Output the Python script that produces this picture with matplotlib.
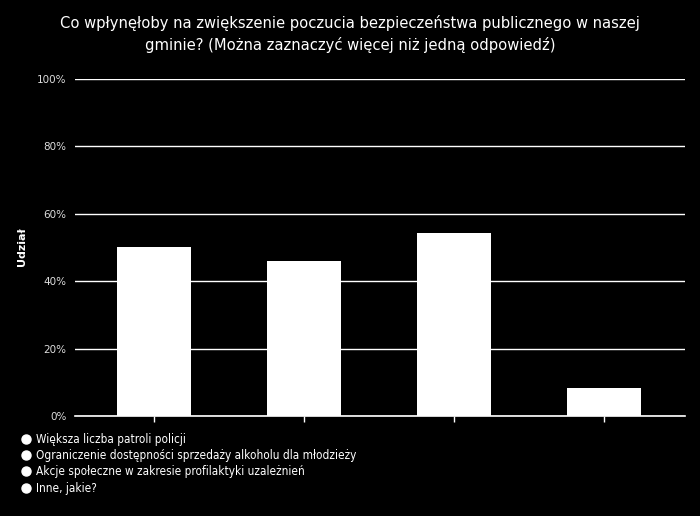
import matplotlib
matplotlib.use("Agg")
import matplotlib.pyplot as plt
from matplotlib.lines import Line2D

title = "Co wpłynęłoby na zwiększenie poczucia bezpieczeństwa publicznego w naszej\ngminie? (Można zaznaczyć więcej niż jedną odpowiedź)"
categories = [
    "Większa liczba patroli policji",
    "Ograniczenie dostępności sprzedaży alkoholu dla młodzieży",
    "Akcje społeczne w zakresie profilaktyki uzależnień",
    "Inne, jakie?",
]
shares = [50.0, 46.0, 54.2, 8.4]
y_ticks = [0, 20, 40, 60, 80, 100]
y_label = "Udział"

plt.rcParams["font.family"] = ["DejaVu Sans"]

fig = plt.figure(figsize=(7.0, 5.16), dpi=100, facecolor="black")
ax = fig.add_axes([75 / 700, 1 - 416 / 516, 610 / 700, 337 / 516])
ax.set_facecolor("black")

x = list(range(len(categories)))
ax.bar(x, shares, width=0.49, color="white", zorder=3)

ax.set_xlim(-0.527, 3.54)
ax.set_ylim(0, 100)
ax.set_yticks(y_ticks)
ax.set_yticklabels([f"{v}%" for v in y_ticks], color="#dddddd", fontsize=7.5)
ax.tick_params(axis="y", length=0, pad=6)
ax.set_xticks(x)
ax.set_xticklabels([""] * len(x))
ax.tick_params(axis="x", colors="white", length=4, width=1, direction="out")
ax.grid(axis="y", color="white", linewidth=1, zorder=1)
for s in ax.spines.values():
    s.set_visible(False)
ax.axhline(0, color="white", linewidth=1.2, zorder=4, clip_on=False)

fig.text(22 / 700, 1 - 247 / 516, y_label, rotation=90, color="white",
         fontsize=8, fontweight="bold", ha="center", va="center")

fig.text(350 / 700, 1 - 34 / 516, title, color="white", fontsize=11.8,
         ha="center", va="center", linespacing=1.45, fontstretch="condensed")

handles = [Line2D([], [], marker="o", linestyle="", markersize=6.5,
                  markerfacecolor="white", markeredgecolor="white") for _ in categories]
leg = fig.legend(handles, categories, loc="upper left",
                 bbox_to_anchor=(17 / 700, 1 - 428 / 516), frameon=False,
                 prop={"size": 8.5, "stretch": "condensed"}, labelcolor="white",
                 handlelength=0.8, handletextpad=0.45, labelspacing=0.28,
                 borderaxespad=0)

fig.savefig("out.png", dpi=100, facecolor="black")
